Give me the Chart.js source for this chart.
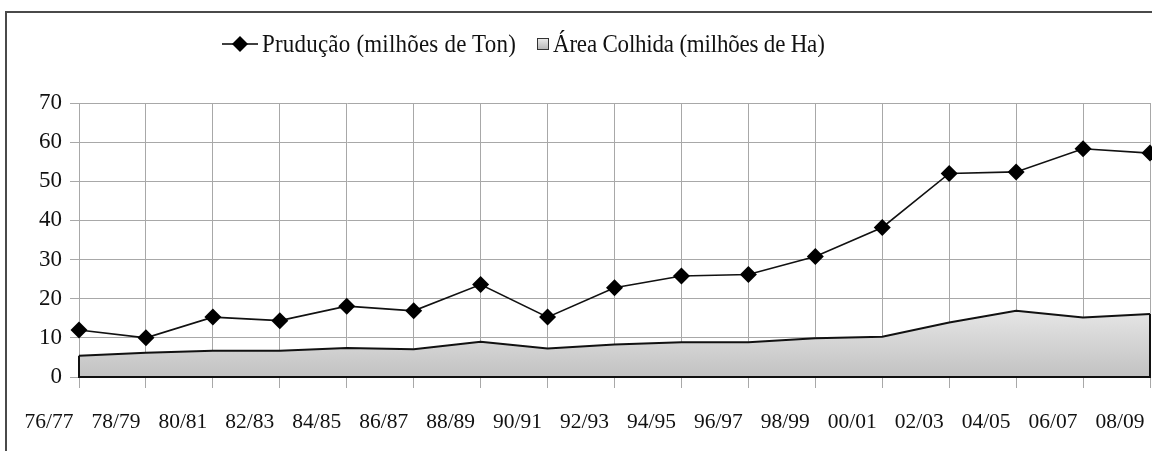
<!DOCTYPE html>
<html>
<head>
<meta charset="utf-8">
<script src="https://cdn.jsdelivr.net/npm/chart.js@4"></script>
<style>
  html, body { margin: 0; padding: 0; background: #fff; }
  #wrap { position: relative; width: 1152px; height: 451px; overflow: hidden; }
  #frame { position: absolute; left: 5px; top: 11px; width: 1200px; height: 500px;
           border-top: 2px solid #4a4a4a; border-left: 2px solid #4a4a4a; box-sizing: border-box; }
  #chartBox { position: absolute; left: 0; top: 0; width: 1152px; height: 451px; }
  .legend { position: absolute; top: 30px; left: 0; height: 28px; font-family: "Liberation Serif", "Times New Roman", serif;
            font-size: 23px; color: #111; white-space: nowrap; }
  .legend span { position: absolute; top: 0; line-height: 28px; transform: scaleY(1.08); }
  .lineMark { position: absolute; width: 36px; height: 28px; }
  .boxMark { position: absolute; width: 10px; height: 10px; border: 1px solid #333;
             background: linear-gradient(#e8e8e8, #b8b8b8); }
</style>
</head>
<body>
<div id="wrap">
  <div id="frame"></div>
  <div id="chartBox"><canvas id="c" width="1152" height="451"></canvas></div>
  <div class="legend">
    <svg class="lineMark" style="left:222px;" width="36" height="28">
      <line x1="0" y1="14" x2="36" y2="14" stroke="#000" stroke-width="1.6"/>
      <polygon points="18,6 26,14 18,22 10,14" fill="#000"/>
    </svg>
    <span style="left:262px; letter-spacing:0.2px;">Prudução (milhões de Ton)</span>
    <div class="boxMark" style="left:537px; top:8px;"></div>
    <span style="left:553px; letter-spacing:-0.2px;">Área Colhida (milhões de Ha)</span>
  </div>
</div>
<script>
// Harvest seasons
const safras = ["76/77", "78/79", "80/81", "82/83", "84/85", "86/87", "88/89", "90/91", "92/93",
                "94/95", "96/97", "98/99", "00/01", "02/03", "04/05", "06/07", "08/09"];
// Production (million tonnes)
const producao = [12.0, 10.0, 15.3, 14.4, 18.1, 16.9, 23.6, 15.3, 22.8,
                  25.8, 26.2, 30.8, 38.2, 52.0, 52.4, 58.3, 57.2];
// Harvested area (million hectares)
const areaColhida = [5.4, 6.2, 6.7, 6.7, 7.4, 7.1, 9.0, 7.3, 8.3,
                     8.9, 8.9, 9.9, 10.3, 13.9, 16.9, 15.2, 16.1];
// Value-axis ticks
const yTicks = [0, 10, 20, 30, 40, 50, 60, 70];

const serif = "'Liberation Serif', 'Times New Roman', serif";

// Outline the filled area (left edge, baseline, right edge)
const areaOutline = {
  id: 'areaOutline',
  afterDatasetsDraw(chart) {
    const meta = chart.getDatasetMeta(1);
    const pts = meta.data;
    if (!pts.length) return;
    const y0 = chart.scales.y.getPixelForValue(0);
    const first = pts[0], last = pts[pts.length - 1];
    const ctx = chart.ctx;
    ctx.save();
    ctx.strokeStyle = '#111';
    ctx.lineWidth = 2;
    ctx.beginPath();
    ctx.moveTo(first.x, first.y);
    ctx.lineTo(first.x, y0);
    ctx.lineTo(last.x, y0);
    ctx.lineTo(last.x, last.y);
    ctx.stroke();
    ctx.restore();
  }
};

new Chart(document.getElementById('c'), {
  type: 'line',
  data: {
    labels: safras,
    datasets: [
      {
        label: 'Prudução (milhões de Ton)',
        data: producao,
        borderColor: '#111',
        borderWidth: 1.6,
        pointStyle: 'rectRot',
        pointRadius: 8.5,
        pointBackgroundColor: '#000',
        pointBorderColor: '#000',
        pointBorderWidth: 0,
        tension: 0,
        fill: false,
        clip: false,
        order: 1
      },
      {
        label: 'Área Colhida (milhões de Ha)',
        data: areaColhida,
        borderColor: '#111',
        borderWidth: 2,
        pointRadius: 0,
        tension: 0,
        fill: 'origin',
        backgroundColor: (ctx) => {
          const area = ctx.chart.chartArea;
          if (!area) return '#d0d0d0';
          const y0 = ctx.chart.scales.y.getPixelForValue(20);
          const g = ctx.chart.ctx.createLinearGradient(0, y0, 0, area.bottom);
          g.addColorStop(0, '#ececec');
          g.addColorStop(1, '#c2c2c2');
          return g;
        },
        order: 2
      }
    ]
  },
  options: {
    responsive: false,
    animation: false,
    events: [],
    layout: { autoPadding: false, padding: { left: 0, right: 2, top: 103, bottom: 0 } },
    plugins: {
      legend: { display: false },
      tooltip: { enabled: false }
    },
    scales: {
      x: {
        offset: false,
        afterFit(scale) { scale.height = 74; scale.paddingLeft = 0; scale.paddingRight = 0; },
        grid: { color: '#a8a8a8', lineWidth: 1, tickLength: 11, drawTicks: true },
        border: { color: '#111', width: 2 },
        ticks: {
          color: '#111',
          font: { family: serif, size: 21.5 },
          padding: 21,
          labelOffset: -30,
          maxRotation: 0,
          autoSkip: false
        }
      },
      y: {
        min: 0,
        max: 70,
        afterFit(scale) { scale.width = 79; scale.paddingTop = 0; scale.paddingBottom = 0; },
        afterBuildTicks(scale) { scale.ticks = yTicks.map(v => ({ value: v })); },
        grid: { color: '#a8a8a8', lineWidth: 1, tickLength: 9 },
        border: { color: '#a8a8a8', width: 1 },
        ticks: {
          color: '#111',
          font: { family: serif, size: 23 },
          padding: 8
        }
      }
    }
  },
  plugins: [areaOutline]
});
</script>
</body>
</html>
